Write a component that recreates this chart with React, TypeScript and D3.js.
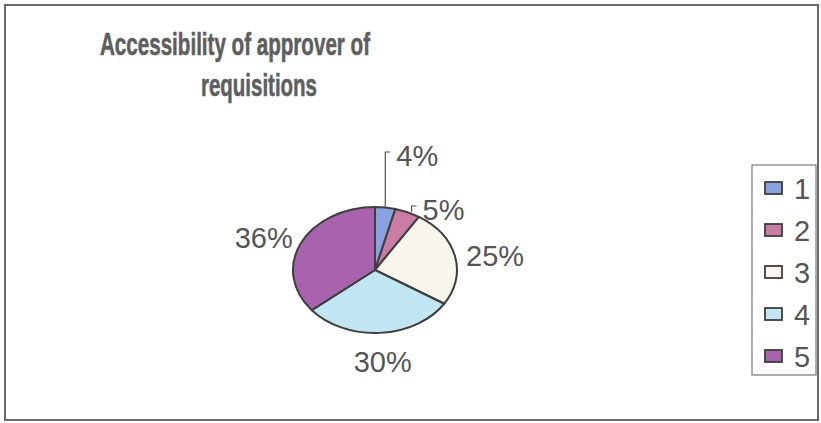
import React from "react";
import * as d3 from "d3";

const categories = ["1", "2", "3", "4", "5"];
const values = [4, 5, 25, 30, 36];
const labels = ["4%", "5%", "25%", "30%", "36%"];
const colors = ["#87a2de", "#c97ca4", "#f8f5ec", "#c2e6f1", "#a862ae"];
const titleLines = ["Accessibility of approver of", "requisitions"];

const W = 821;
const H = 423;
const cx = 375;
const cy = 270;
const rx = 82;
const ry = 63;

export default function App() {
  const pie = d3.pie<number>().sort(null).value((d) => d)(values);
  const arc = d3.arc<d3.PieArcDatum<number>>().innerRadius(0).outerRadius(rx);
  const sy = ry / rx;
  const font = "'Liberation Sans', Arial, sans-serif";
  const txt = "#555";

  const pt = (a: number, kx: number, ky: number) => [cx + rx * kx * Math.sin(a), cy - ry * ky * Math.cos(a)];

  const legendX = 752;
  const legendY = 165;
  const legendStep = 42;

  return (
    <div style={{ position: "absolute", left: 0, top: 0 }}>
      <svg width={W} height={H} style={{ display: "block", background: "#fff" }}>
        <rect x={5} y={5} width={813} height={415} fill="#fff" stroke="#6a6a6a" strokeWidth={2} />
        <text x={100} y={55} fontFamily={font} fontWeight="bold" fontSize={32} fill="#5e5e5e"
          stroke="#5e5e5e" strokeWidth={0.6}
          textLength={270} lengthAdjust="spacingAndGlyphs">{titleLines[0]}</text>
        <text x={201} y={96} fontFamily={font} fontWeight="bold" fontSize={32} fill="#5e5e5e"
          stroke="#5e5e5e" strokeWidth={0.6}
          textLength={116} lengthAdjust="spacingAndGlyphs">{titleLines[1]}</text>

        <g transform={`translate(${cx},${cy}) scale(1,${sy})`}>
          {pie.map((d, i) => (
            <path key={i} d={arc(d) || ""} fill={colors[i]} stroke="#3e3e3e" strokeWidth={2}
              vectorEffect="non-scaling-stroke" strokeLinejoin="round" />
          ))}
        </g>

        {pie.map((d, i) => {
          const mid = (d.startAngle + d.endAngle) / 2;
          const small = values[i] < 10;
          if (small) {
            const [ax, ay] = pt(mid, 1, 1);
            const topY = i === 0 ? 152 : 206;
            const lx = ax + (i === 0 ? 0 : 4);
            return (
              <g key={i}>
                <polyline points={`${lx},${ay} ${lx},${topY} ${lx + 5},${topY}`} fill="none" stroke="#555" strokeWidth={1.2} />
                <text x={lx + 11} y={topY + 14} fontFamily={font} fontSize={29} fill={txt}>{labels[i]}</text>
              </g>
            );
          }
          const [lx, ly] = pt(mid, 1.5, 1.38);
          return (
            <text key={i} x={lx} y={ly + 15} textAnchor="middle" fontFamily={font} fontSize={29} fill={txt}>{labels[i]}</text>
          );
        })}

        <rect x={legendX} y={legendY} width={64} height={210} fill="#fff" stroke="#777" strokeWidth={1.2} />
        {categories.map((c, i) => {
          const yc = legendY + 23 + i * legendStep;
          return (
            <g key={c}>
              <rect x={legendX + 13} y={yc - 6} width={17} height={12} fill={colors[i]} stroke="#3e3e3e" strokeWidth={1.8} />
              <text x={legendX + 42} y={yc + 11} fontFamily={font} fontSize={29} fill={txt}>{c}</text>
            </g>
          );
        })}
      </svg>
    </div>
  );
}
